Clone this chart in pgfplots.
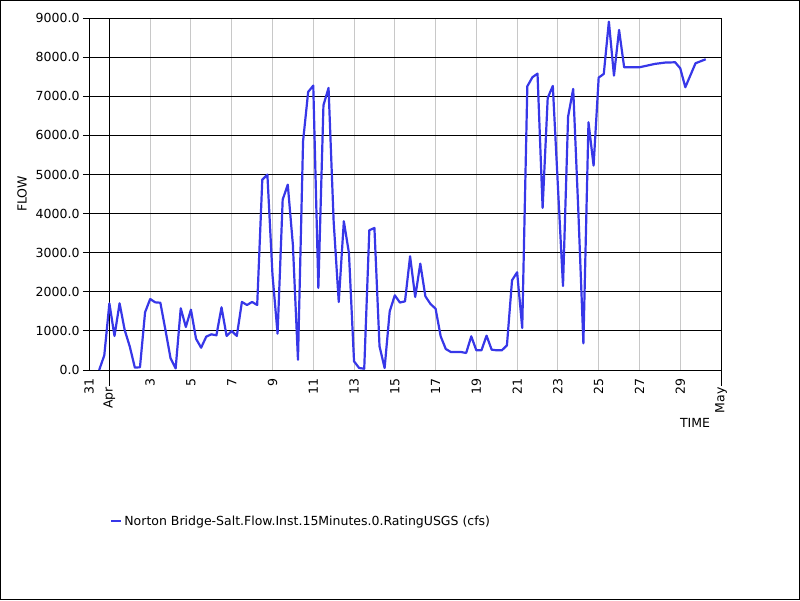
\documentclass[border=0pt]{standalone}
\usepackage{pgfplots}
\pgfplotsset{compat=1.18}
\usepackage{fontspec}
\setmainfont{DejaVu Sans}
\definecolor{flowblue}{RGB}{55,55,232}
\definecolor{gridgray}{RGB}{200,200,200}
\begin{document}
\begin{tikzpicture}[x=1pt,y=1pt]
\useasboundingbox (0,0) rectangle (800,600);
\draw[black, line width=1pt] (0.5,0.5) rectangle (799.5,599.5);
\begin{axis}[
  at={(89pt,230pt)}, anchor=south west,
  scale only axis, width=632pt, height=352pt,
  xmin=0, xmax=31, ymin=0, ymax=9000,
  axis line style={black, line width=1pt},
  font=\fontsize{12.5}{14}\selectfont,
  /pgf/number format/assume math mode=true,
  ytick={0,1000,...,9000},
  yticklabel style={/pgf/number format/.cd, fixed, fixed zerofill, precision=1, 1000 sep={}},
  scaled y ticks=false,
  ymajorgrids, xmajorgrids,
  every axis y grid/.style={black, line width=1pt},
  every axis x grid/.style={gridgray, line width=1pt},
  tick align=outside, tick pos=left,
  major tick length=6pt,
  ytick style={black, line width=1pt},
  xtick={0,3,5,...,29},
  xticklabels={31,3,5,7,9,11,13,15,17,19,21,23,25,27,29},
  xtick style={draw=none},
  xticklabel style={rotate=90, anchor=east, inner sep=2pt},
  extra x ticks={1,31},
  extra x tick labels={Apr,May},
  extra x tick style={
    major tick length=16pt,
    xtick style={draw=black, line width=1pt},
    every axis x grid/.style={black, line width=1pt},
    xticklabel style={inner sep=1pt},
  },
  xlabel={TIME}, ylabel={FLOW},
  xlabel style={at={(axis description cs:0.959,-0.151)}, anchor=center},
  ylabel style={at={(axis description cs:-0.106,0.5)}, anchor=center, rotate=0},
  legend style={at={(axis description cs:0.0332,-0.429)}, anchor=west, draw=none, fill=none, inner sep=0pt, font=\fontsize{12.5}{14}\selectfont},
  legend image code/.code={\draw[#1, line width=2.2pt] (0pt,0pt) -- (10pt,0pt);},
  legend cell align=left,
]
\addplot[flowblue, line width=2.2pt, line join=round] coordinates {
(0.5,0) (0.75,375) (1.0,1705) (1.25,870) (1.5,1705) (1.75,1023) (2.0,600) (2.25,60) (2.5,70) (2.75,1475)
(3.0,1815) (3.25,1730) (3.5,1720) (3.75,1023) (4.0,300) (4.25,40) (4.5,1578) (4.75,1100) (5.0,1543) (5.25,800)
(5.5,570) (5.75,852) (6.0,913) (6.25,887) (6.5,1603) (6.75,870) (7.0,997) (7.25,870) (7.5,1740) (7.75,1662)
(8.0,1740) (8.25,1662) (8.5,4867) (8.75,4995) (9.0,2438) (9.25,928) (9.5,4356) (9.75,4740) (10.0,3205) (10.25,264)
(10.5,5849) (10.75,7110) (11.0,7272) (11.25,2097) (11.5,6770) (11.75,7212) (12.0,3800) (12.25,1740) (12.5,3803) (12.75,2992)
(13.0,222) (13.25,51) (13.5,33) (13.75,3573) (14.0,3632) (14.25,606) (14.5,51) (14.75,1500) (15.0,1910) (15.25,1725)
(15.5,1756) (15.75,2908) (16.0,1867) (16.25,2720) (16.5,1884) (16.75,1688) (17.0,1568) (17.25,861) (17.5,537) (17.75,460)
(18.0,460) (18.25,460) (18.5,435) (18.75,861) (19.0,503) (19.25,503) (19.5,878) (19.75,520) (20.0,503) (20.25,503)
(20.5,631) (20.75,2294) (21.0,2499) (21.25,1074) (21.5,7255) (21.75,7485) (22.0,7578) (22.25,4143) (22.5,6957) (22.75,7263)
(23.0,4700) (23.25,2148) (23.5,6479) (23.75,7187) (24.0,4092) (24.25,682) (24.5,6335) (24.75,5226) (25.0,7476) (25.25,7570)
(25.5,8908) (25.75,7527) (26.0,8696) (26.25,7740) (27.0,7740) (27.75,7826) (28.25,7860) (28.75,7868) (29.0,7715) (29.25,7230)
(29.75,7843) (30.25,7945)
};
\addlegendentry{Norton Bridge-Salt.Flow.Inst.15Minutes.0.RatingUSGS (cfs)}
\end{axis}
\end{tikzpicture}
\end{document}
